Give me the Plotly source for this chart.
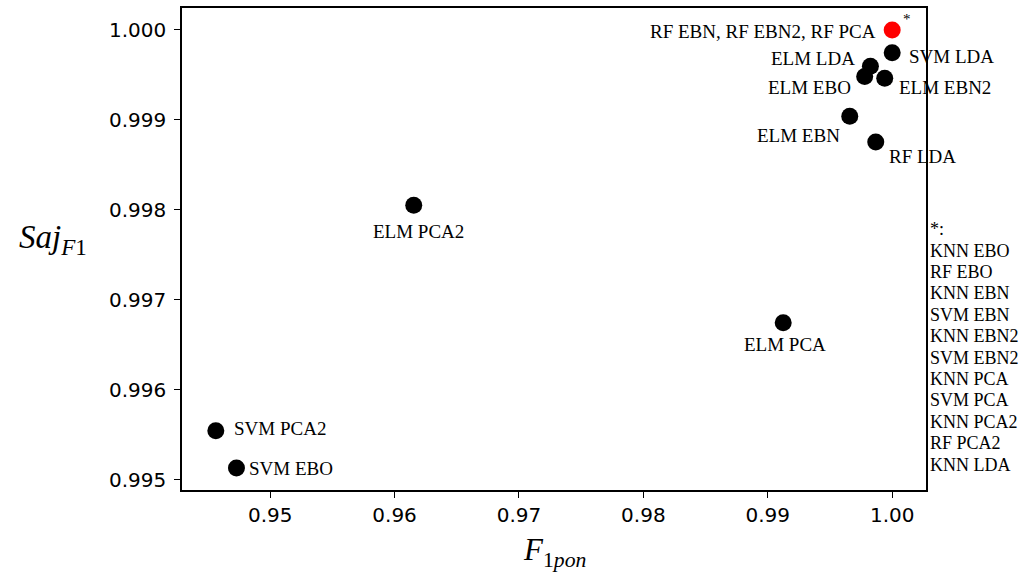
import plotly.graph_objects as go

# Method / feature-set combinations and their scores
labels = [
    "RF EBN, RF EBN2, RF PCA",
    "SVM LDA",
    "ELM LDA",
    "ELM EBO",
    "ELM EBN2",
    "ELM EBN",
    "RF LDA",
    "ELM PCA2",
    "ELM PCA",
    "SVM PCA2",
    "SVM EBO",
]
f1_pon = [1.0000, 1.0000, 0.99825, 0.99779, 0.99940, 0.99659, 0.99868,
          0.96154, 0.99124, 0.94563, 0.94729]
saj_f1 = [1.000000, 0.999745, 0.999596, 0.999482, 0.999463, 0.999041,
          0.998753, 0.998050, 0.996745, 0.995544, 0.995130]

# Combinations that also reach the top score (listed beside the plot)
tied_best = ["KNN EBO", "RF EBO", "KNN EBN", "SVM EBN", "KNN EBN2", "SVM EBN2",
             "KNN PCA", "SVM PCA", "KNN PCA2", "RF PCA2", "KNN LDA"]

x_ticks = [0.95, 0.96, 0.97, 0.98, 0.99, 1.00]
y_ticks = [0.995, 0.996, 0.997, 0.998, 0.999, 1.000]

# label placement: (xanchor, xshift, yshift) in pixels
label_pos = {
    "RF EBN, RF EBN2, RF PCA": ("right", -14, -2),
    "SVM LDA": ("left", 15, -4),
    "ELM LDA": ("right", -13, 8),
    "ELM EBO": ("right", -12, -11),
    "ELM EBN2": ("left", 12, -9),
    "ELM EBN": ("right", -8, -19),
    "RF LDA": ("left", 11, -14),
    "ELM PCA2": ("center", 5, -26),
    "ELM PCA": ("center", 2, -22),
    "SVM PCA2": ("left", 16, 2),
    "SVM EBO": ("left", 11, 0),
}

SERIF = "Liberation Serif"
colors = ["#ff0000"] + ["#000000"] * (len(labels) - 1)


def padded(vals, frac=0.05):
    lo, hi = min(vals), max(vals)
    pad = (hi - lo) * frac
    return [lo - pad, hi + pad]


fig = go.Figure()
fig.add_trace(go.Scatter(
    x=f1_pon, y=saj_f1, mode="markers",
    marker=dict(size=17, color=colors, line=dict(width=0)),
    hovertext=labels, hoverinfo="text", showlegend=False,
))

annotations = []
for name, xv, yv in zip(labels, f1_pon, saj_f1):
    anchor, dx, dy = label_pos[name]
    annotations.append(dict(
        x=xv, y=yv, xref="x", yref="y", text=name, showarrow=False,
        xanchor=anchor, yanchor="middle", xshift=dx, yshift=dy,
        font=dict(family=SERIF, size=19, color="black"),
    ))

# asterisk next to the red marker
annotations.append(dict(
    x=f1_pon[0], y=saj_f1[0], xref="x", yref="y", text="*", showarrow=False,
    xanchor="left", yanchor="middle", xshift=9, yshift=11,
    font=dict(family=SERIF, size=15, color="black"),
))

# list of the combinations tied at the top score
list_top = 0.541
step = 0.0444
annotations.append(dict(
    x=1.003, y=list_top, xref="paper", yref="paper", text="*:", showarrow=False,
    xanchor="left", yanchor="middle",
    font=dict(family=SERIF, size=18, color="black"),
))
for i, name in enumerate(tied_best):
    annotations.append(dict(
        x=1.003, y=list_top - step * (i + 1), xref="paper", yref="paper",
        text=name, showarrow=False, xanchor="left", yanchor="middle",
        font=dict(family=SERIF, size=18, color="black"),
    ))

# axis titles (horizontal y title, as math-style italics)
annotations.append(dict(
    x=-0.173, y=0.52, xref="paper", yref="paper",
    text="<i>Saj</i><sub><i>F</i>1</sub>", showarrow=False,
    xanchor="center", yanchor="middle",
    font=dict(family=SERIF, size=33, color="black"),
))
annotations.append(dict(
    x=0.5, y=-0.128, xref="paper", yref="paper",
    text="<i>F</i><sub>1<i>pon</i></sub>", showarrow=False,
    xanchor="center", yanchor="middle",
    font=dict(family=SERIF, size=31, color="black"),
))

axis_common = dict(
    showgrid=False, zeroline=False, showline=True, mirror=True,
    linecolor="black", linewidth=1.5, ticks="outside", ticklen=6,
    tickwidth=1.3, tickcolor="black",
    tickfont=dict(family="DejaVu Sans", size=20, color="black"),
)

fig.update_layout(
    width=1027, height=574,
    margin=dict(l=182, r=101, t=6, b=84),
    paper_bgcolor="white", plot_bgcolor="white",
    xaxis=dict(range=padded(f1_pon), tickvals=x_ticks,
               ticktext=[f"{v:.2f}" for v in x_ticks], **axis_common),
    yaxis=dict(range=padded(saj_f1), tickvals=y_ticks, ticklabelstandoff=4,
               ticktext=[f"{v:.3f}" for v in y_ticks], **axis_common),
    annotations=annotations,
)

fig.write_html("out.html")
